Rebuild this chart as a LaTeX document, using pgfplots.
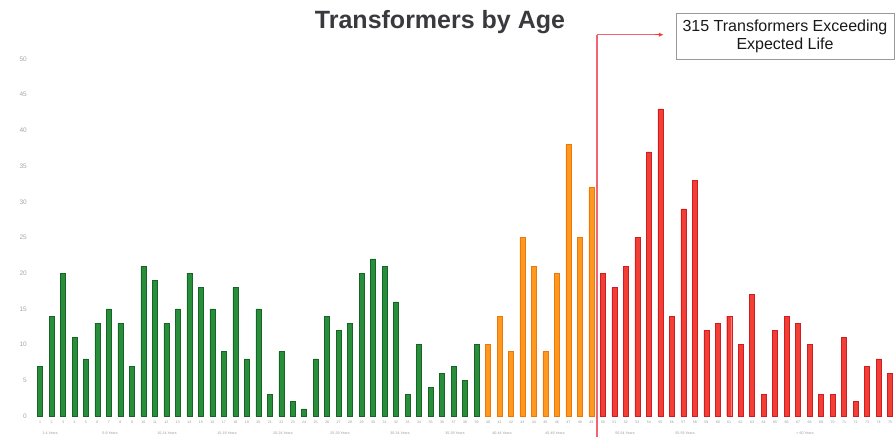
\documentclass[border=0pt]{standalone}
\usepackage{fontspec}
\setmainfont{Liberation Sans}
\usepackage{pgfplots}
\pgfplotsset{compat=1.18}
\usetikzlibrary{arrows.meta}
\definecolor{gfill}{RGB}{40,142,58}
\definecolor{gdraw}{RGB}{22,100,40}
\definecolor{ofill}{RGB}{255,152,30}
\definecolor{odraw}{RGB}{235,120,10}
\definecolor{rfill}{RGB}{242,62,52}
\definecolor{rdraw}{RGB}{205,30,35}
\definecolor{lred}{RGB}{240,100,115}
\definecolor{tgray}{RGB}{58,58,62}
\tikzset{glab/.style={font=\fontsize{3.6bp}{4bp}\selectfont, text=gray!80}}
\begin{document}
\begin{tikzpicture}
\useasboundingbox (0,0) rectangle (895bp,438bp);
\node[font=\fontsize{25bp}{28bp}\selectfont\bfseries, text=tgray] at (440bp,416bp) {Transformers by Age};
\begin{axis}[
  at={(34.3bp,22bp)}, anchor=south west,
  scale only axis, width=861.5bp, height=357bp,
  xmin=0.5, xmax=75.5, ymin=0, ymax=50,
  clip=false,
  axis line style={draw=none},
  major tick style={draw=none},
  ytick={0,5,...,50},
  xtick={1,...,75},
  yticklabel style={font=\fontsize{6.5bp}{7bp}\selectfont, text=gray!70, xshift=-4bp},
  xticklabel style={font=\fontsize{3.6bp}{4bp}\selectfont, text=gray!80, yshift=3bp},
  /pgf/number format/assume math mode=true,
  ybar, bar width=5bp, bar shift=0pt,
]
\addplot[fill=gfill, draw=gdraw, line width=0.5pt] coordinates {
(1,7)(2,14)(3,20)(4,11)(5,8)(6,13)(7,15)(8,13)(9,7)(10,21)
(11,19)(12,13)(13,15)(14,20)(15,18)(16,15)(17,9)(18,18)(19,8)(20,15)
(21,3)(22,9)(23,2)(24,1)(25,8)(26,14)(27,12)(28,13)(29,20)(30,22)
(31,21)(32,16)(33,3)(34,10)(35,4)(36,6)(37,7)(38,5)(39,10)};
\addplot[fill=ofill, draw=odraw, line width=0.5pt] coordinates {
(40,10)(41,14)(42,9)(43,25)(44,21)(45,9)(46,20)(47,38)(48,25)(49,32)};
\addplot[fill=rfill, draw=rdraw, line width=0.5pt] coordinates {
(50,20)(51,18)(52,21)(53,25)(54,37)(55,43)(56,14)(57,29)(58,33)(59,12)
(60,13)(61,14)(62,10)(63,17)(64,3)(65,12)(66,14)(67,13)(68,10)(69,3)
(70,3)(71,11)(72,2)(73,7)(74,8)(75,6)};
\draw[color=lred, line width=1.4pt] (axis cs:49.5,-3) -- (axis cs:49.5,53.4);
\draw[color=lred, line width=1pt] (axis cs:49.5,53.4) -- (axis cs:55.0,53.4);
\draw[draw=rfill, fill=rfill, line width=1pt, -{Latex[length=5bp,width=4.5bp]}] (axis cs:54.5,53.4) -- (axis cs:55.3,53.4);
\node[glab] at (axis cs:1.87,-2.4) {1-4 Years};
\node[glab] at (axis cs:7.09,-2.4) {5-9 Years};
\node[glab] at (axis cs:12.06,-2.4) {10-14 Years};
\node[glab] at (axis cs:17.28,-2.4) {15-19 Years};
\node[glab] at (axis cs:22.16,-2.4) {20-24 Years};
\node[glab] at (axis cs:27.12,-2.4) {25-29 Years};
\node[glab] at (axis cs:32.34,-2.4) {30-34 Years};
\node[glab] at (axis cs:37.13,-2.4) {35-39 Years};
\node[glab] at (axis cs:41.22,-2.4) {40-44 Years};
\node[glab] at (axis cs:45.83,-2.4) {45-49 Years};
\node[glab] at (axis cs:51.93,-2.4) {50-54 Years};
\node[glab] at (axis cs:57.15,-2.4) {55-59 Years};
\node[glab] at (axis cs:67.6,-2.4) {> 60 Years};
\end{axis}
\draw[gray!80, line width=0.7pt] (676bp,379bp) rectangle (894bp,425bp);
\node[align=center, font=\fontsize{16bp}{18bp}\selectfont, text=black!90] at (785bp,402bp) {315 Transformers Exceeding\\Expected Life};
\end{tikzpicture}
\end{document}
